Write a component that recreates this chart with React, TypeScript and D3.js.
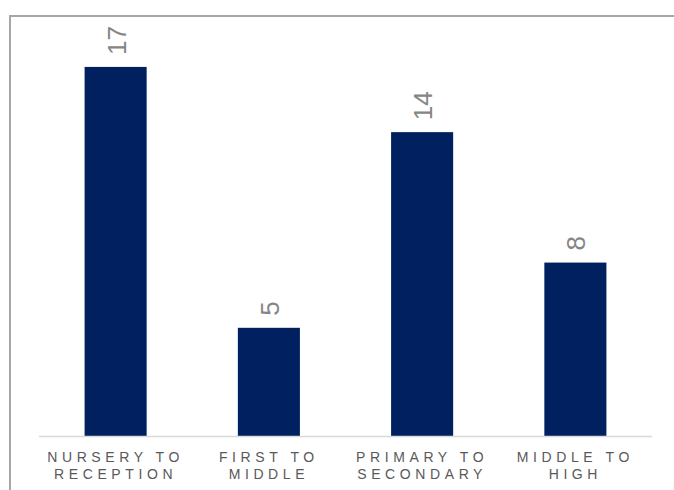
import React from "react";
import * as d3 from "d3";

const categories = ["NURSERY TO|RECEPTION", "FIRST TO|MIDDLE", "PRIMARY TO|SECONDARY", "MIDDLE TO|HIGH"];
const values = [17, 5, 14, 8];

const W = 674;
const H = 490;

export default function App() {
  React.useEffect(() => {
    document.body.style.margin = "0";
  }, []);

  const x = d3
    .scaleBand<string>()
    .domain(categories)
    .range([39, 652])
    .paddingInner(0.595)
    .paddingOuter(0.2975);
  const y = d3.scaleLinear().domain([0, 20]).range([436.5, 1.7]);
  const font = "'Liberation Sans', Arial, sans-serif";

  return (
    <svg width={W} height={H} style={{ display: "block", position: "absolute", left: 0, top: 0 }}>
      <rect x={0} y={0} width={W} height={H} fill="#ffffff" />
      <line x1={10} y1={16} x2={W} y2={16} stroke="#a6a6a6" strokeWidth={2} />
      <line x1={10} y1={15} x2={10} y2={H} stroke="#a6a6a6" strokeWidth={2} />
      {categories.map((c, i) => {
        const bx = x(c)!;
        const bw = x.bandwidth();
        const cx = bx + bw / 2;
        const top = y(values[i]);
        return (
          <g key={c}>
            <rect x={bx} y={top} width={bw} height={y(0) - top} fill="#002060" />
            <text
              transform={`translate(${cx + 1},${top - 12}) rotate(-90)`}
              dy="0.35em"
              textAnchor="start"
              fontFamily={font}
              fontSize={26}
              fill="#858585"
            >
              {values[i]}
            </text>
            {c.split("|").map((line, j) => (
              <text
                key={j}
                x={cx}
                y={461.5 + j * 17.5}
                textAnchor="middle"
                fontFamily={font}
                fontSize={14}
                letterSpacing={4.6}
                fill="#595959"
              >
                {line}
              </text>
            ))}
          </g>
        );
      })}
      <line x1={39} y1={y(0)} x2={652} y2={y(0)} stroke="#d9d9d9" strokeWidth={1.5} />
    </svg>
  );
}
